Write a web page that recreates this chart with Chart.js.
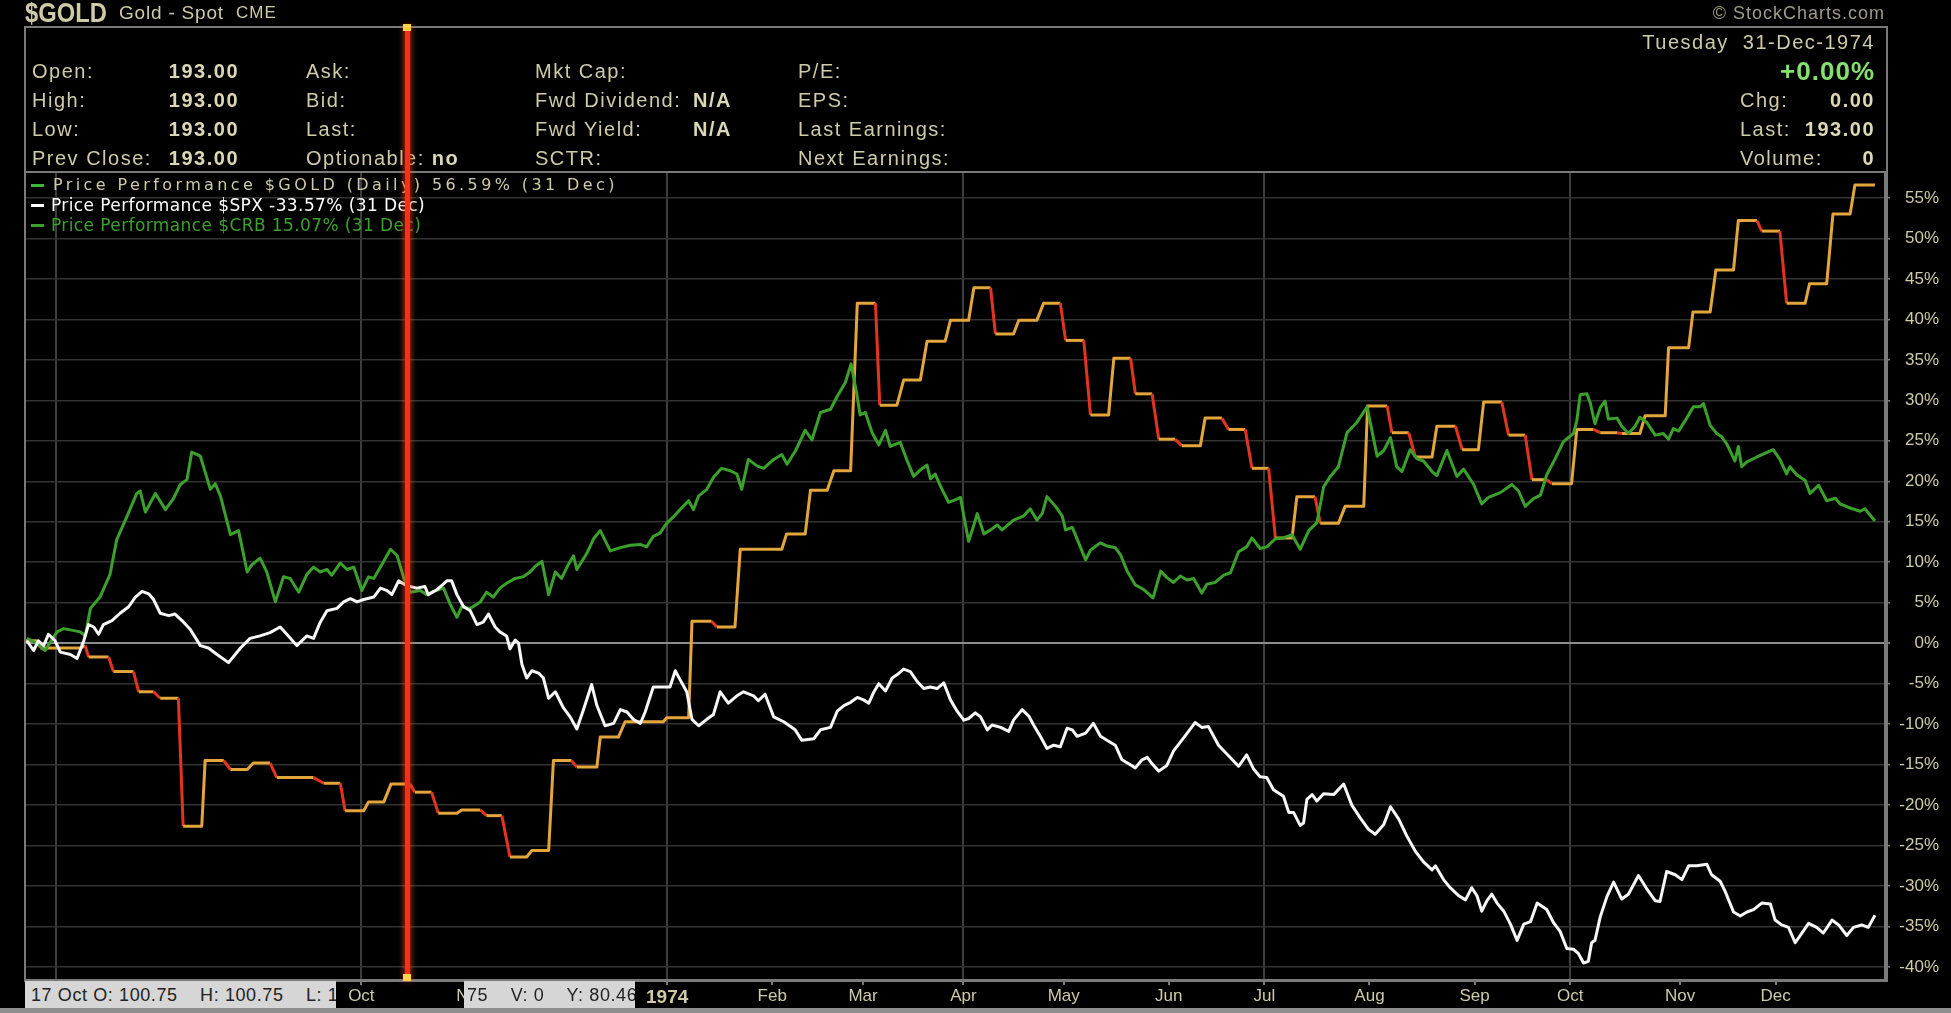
<!DOCTYPE html>
<html>
<head>
<meta charset="utf-8">
<script src="https://cdn.jsdelivr.net/npm/chart.js"></script>
<style>
  html, body { margin: 0; padding: 0; background: #000; width: 1951px; height: 1013px; overflow: hidden; }
  #wrap { position: relative; width: 1951px; height: 1013px; }
  #c { position: absolute; left: 0; top: 0; z-index: 1; }
  .t { position: absolute; z-index: 2; white-space: nowrap; line-height: 1; color: #cfcaa8;
       font-family: 'Liberation Sans', Arial, sans-serif; font-size: 20px; letter-spacing: 1.5px; }
  .b { font-weight: bold; color: #dcd8b6; }
  .lg { font-family: 'DejaVu Sans', sans-serif; font-size: 17px; letter-spacing: 0.4px; }
  .dash { position: absolute; z-index: 2; width: 13px; height: 3px; }
  #frame { position: absolute; z-index: 2; left: 24px; top: 26px; width: 1860px; height: 952px;
           border: 2px solid #7a7a7a; pointer-events: none; }
  #sep { position: absolute; z-index: 2; left: 24px; top: 171px; width: 1862px; height: 2px; background: #7a7a7a; }
  .tip { position: absolute; z-index: 3; top: 981px; height: 27px; background: #d6d6d6; overflow: hidden; }
  .tip span { position: absolute; top: 5px; white-space: nowrap; color: #222; line-height: 1;
              font-family: 'Liberation Sans', Arial, sans-serif; font-size: 18px; letter-spacing: 0.6px; }
  #foot { position: absolute; z-index: 3; left: 0; top: 1008px; width: 1951px; height: 5px; background: #8e8e8e; }
  #cursor { position: absolute; z-index: 4; top: 27px; height: 952px; width: 5px; background: #ff2c18;
            box-shadow: 0 0 5px 2px rgba(255, 70, 30, 0.55); }
  .knob { position: absolute; z-index: 5; width: 8px; height: 7px; background: #ffd24a; }
</style>
</head>
<body>
<div id="wrap">
  <canvas id="c" width="1951" height="1013"></canvas>

  <!-- titre -->
  <div class="t b" style="left:25px;top:0px;font-size:27px;letter-spacing:0;color:#cfcaa8;transform:scaleX(0.88);transform-origin:left top">$GOLD</div>
  <div class="t" style="left:119px;top:3px;font-size:19px;letter-spacing:0.8px">Gold - Spot</div>
  <div class="t" style="left:236px;top:4px;font-size:17px;letter-spacing:1px">CME</div>
  <div class="t" style="right:66px;top:4px;font-size:18px;letter-spacing:1px;color:#9e9b86">&copy; StockCharts.com</div>

  <div id="frame"></div>
  <div id="sep"></div>

  <!-- en-tete -->
  <div class="t" style="left:32px;top:61px">Open:</div>
  <div class="t" style="left:32px;top:90px">High:</div>
  <div class="t" style="left:32px;top:119px">Low:</div>
  <div class="t" style="left:32px;top:148px">Prev Close:</div>
  <div class="t b" style="right:1712px;top:61px">193.00</div>
  <div class="t b" style="right:1712px;top:90px">193.00</div>
  <div class="t b" style="right:1712px;top:119px">193.00</div>
  <div class="t b" style="right:1712px;top:148px">193.00</div>

  <div class="t" style="left:306px;top:61px">Ask:</div>
  <div class="t" style="left:306px;top:90px">Bid:</div>
  <div class="t" style="left:306px;top:119px">Last:</div>
  <div class="t" style="left:306px;top:148px">Optionable: <span class="b">no</span></div>

  <div class="t" style="left:535px;top:61px">Mkt Cap:</div>
  <div class="t" style="left:535px;top:90px">Fwd Dividend:</div>
  <div class="t" style="left:535px;top:119px">Fwd Yield:</div>
  <div class="t" style="left:535px;top:148px">SCTR:</div>
  <div class="t b" style="left:693px;top:90px">N/A</div>
  <div class="t b" style="left:693px;top:119px">N/A</div>

  <div class="t" style="left:798px;top:61px">P/E:</div>
  <div class="t" style="left:798px;top:90px">EPS:</div>
  <div class="t" style="left:798px;top:119px">Last Earnings:</div>
  <div class="t" style="left:798px;top:148px">Next Earnings:</div>

  <div class="t" style="right:76px;top:32px">Tuesday&nbsp; 31-Dec-1974</div>
  <div class="t b" style="right:76px;top:58px;font-size:26px;letter-spacing:1px;color:#86e070">+0.00%</div>
  <div class="t" style="left:1740px;top:90px">Chg:</div>
  <div class="t b" style="right:76px;top:90px">0.00</div>
  <div class="t" style="left:1740px;top:119px">Last:</div>
  <div class="t b" style="right:76px;top:119px">193.00</div>
  <div class="t" style="left:1740px;top:148px">Volume:</div>
  <div class="t b" style="right:76px;top:148px">0</div>

  <!-- legende -->
  <div class="dash" style="left:31px;top:184px;background:#3db53a"></div>
  <div class="t lg" style="left:53px;top:177px;font-size:16px;letter-spacing:3.4px;color:#cfcaa8">Price Performance $GOLD (Daily) 56.59% (31 Dec)</div>
  <div class="dash" style="left:31px;top:204px;background:#ffffff"></div>
  <div class="t lg" style="left:51px;top:197px;color:#ffffff">Price Performance $SPX -33.57% (31 Dec)</div>
  <div class="dash" style="left:31px;top:224px;background:#3ca02d"></div>
  <div class="t lg" style="left:51px;top:217px;color:#3ca02d">Price Performance $CRB 15.07% (31 Dec)</div>

  <!-- infobulle du bas -->
  <div class="tip" style="left:25px;width:311px"><span style="left:6px">17 Oct O: 100.75&nbsp;&nbsp;&nbsp; H: 100.75&nbsp;&nbsp;&nbsp; L: 100.75</span></div>
  <div class="tip" style="left:464px;width:171px"><span style="left:3px">75&nbsp;&nbsp;&nbsp; V: 0&nbsp;&nbsp;&nbsp; Y: 80.46</span></div>
  <div id="foot"></div>

  <div id="cursor"></div>
  <div class="knob" id="knobTop" style="top:24px"></div>
  <div class="knob" id="knobBot" style="top:974px"></div>
</div>

<script>
// x = jour de bourse (0 = 2 janv. 1974), y = performance en %
const monthDays = [-127.9, -107, -85, -64, -41, -20, 0, 22, 41, 62, 83, 105, 125, 147, 169, 189, 212, 232];
const monthLabels = ["Jul", "Aug", "Sep", "Oct", "Nov", "Dec", "1974", "Feb", "Mar", "Apr", "May", "Jun", "Jul", "Aug", "Sep", "Oct", "Nov", "Dec"];
const quarterDays = [-127.9, -64, 0, 62, 125, 189];
const yTicks = [-40, -35, -30, -25, -20, -15, -10, -5, 0, 5, 10, 15, 20, 25, 30, 35, 40, 45, 50, 55];
const cursorDay = -54.4;

const gold = [
  [-134.4,0.3],[-131.8,0.3],[-131.2,-0.6],[-122.8,-0.6],[-121.8,-0.3],[-121.1,-1.7],[-116.9,-1.7],[-115.9,-3.5],
  [-111.7,-3.5],[-110.6,-6.0],[-107.5,-6.0],[-106.1,-6.8],[-102.3,-6.8],[-101.3,-22.6],[-97.4,-22.6],[-96.7,-14.5],
  [-92.8,-14.5],[-91.4,-15.6],[-87.9,-15.6],[-86.6,-14.8],[-83.1,-14.8],[-81.7,-16.6],[-74.0,-16.6],[-71.9,-17.3],
  [-68.4,-17.3],[-67.4,-20.7],[-63.5,-20.7],[-62.5,-19.6],[-59.3,-19.6],[-57.8,-17.4],[-53.8,-17.4],[-52.8,-18.4],
  [-49.3,-18.4],[-47.9,-21.0],[-44.0,-21.0],[-43.0,-20.6],[-39.1,-20.6],[-37.8,-21.3],[-34.6,-21.3],[-32.9,-26.4],
  [-29.4,-26.4],[-28.3,-25.6],[-24.8,-25.6],[-23.8,-14.5],[-20.0,-14.5],[-18.9,-15.3],[-14.7,-15.3],[-14.0,-11.6],
  [-10.2,-11.6],[-8.8,-9.7],[-0.8,-9.7],[-0.1,-9.2],[4.5,-9.2],[5.2,2.7],[9.3,2.7],[10.4,2.0],[14.2,2.0],[15.3,11.6],
  [24.0,11.6],[25.0,13.5],[28.9,13.5],[30.0,18.9],[33.5,18.9],[34.9,21.3],[38.4,21.3],[39.8,42.0],[43.6,42.0],
  [44.5,29.4],[48.1,29.4],[49.5,32.5],[53.0,32.5],[54.4,37.3],[58.2,37.3],[59.3,39.9],[63.1,39.9],[64.2,43.9],
  [67.7,43.9],[68.7,38.2],[72.5,38.2],[73.6,39.9],[77.4,39.9],[78.8,42.0],[82.3,42.0],[83.4,37.4],[87.2,37.4],
  [88.6,28.2],[92.4,28.2],[93.5,35.2],[97.0,35.2],[98.0,30.8],[101.5,30.8],[102.9,25.2],[106.3,25.2],[107.7,24.4],
  [111.6,24.4],[112.6,27.8],[116.1,27.8],[117.5,26.4],[121.0,26.4],[122.4,21.6],[125.9,21.6],[127.3,13.0],
  [130.8,13.0],[131.8,18.1],[135.6,18.1],[136.7,14.8],[140.5,14.8],[141.9,16.9],[145.8,16.9],[146.6,29.3],
  [150.7,29.3],[151.7,26.0],[155.2,26.0],[156.6,23.0],[160.1,23.0],[161.1,26.8],[165.0,26.8],[166.4,23.9],
  [169.8,23.9],[170.9,29.8],[174.7,29.8],[176.1,25.7],[179.6,25.7],[181.0,20.2],[184.1,20.2],[185.2,19.7],
  [189.3,19.7],[190.4,26.4],[193.9,26.4],[195.3,26.0],[198.8,26.0],[199.8,25.9],[203.6,25.9],[204.7,28.1],
  [208.9,28.1],[209.6,36.5],[213.8,36.5],[214.7,40.9],[218.3,40.9],[219.5,46.1],[223.2,46.1],[224.2,52.2],
  [228.1,52.2],[229.1,50.9],[232.9,50.9],[234.3,42.0],[238.2,42.0],[239.1,44.4],[242.7,44.4],[244.0,53.0],
  [247.6,53.0],[248.6,56.6],[252.8,56.6]
];

const spx = [
  [-134.0,0.3],[-132.6,-0.9],[-131.6,0.3],[-130.5,-0.3],[-129.5,1.1],[-128.1,0.3],[-127.0,-1.1],[-124.9,-1.4],
  [-123.5,-1.9],[-122.1,0.3],[-121.1,2.3],[-120.0,2.0],[-119.0,1.1],[-118.0,2.3],[-116.2,2.8],[-114.5,3.7],
  [-112.7,4.5],[-111.3,5.7],[-109.9,6.4],[-108.5,6.1],[-107.5,5.4],[-106.1,3.7],[-104.3,3.4],[-103.0,3.6],
  [-101.2,2.6],[-99.8,1.7],[-97.7,-0.3],[-96.0,-0.6],[-94.2,-1.4],[-91.8,-2.4],[-89.3,-0.6],[-87.3,0.6],
  [-85.2,0.9],[-83.1,1.3],[-81.0,2.0],[-79.6,1.1],[-77.5,-0.3],[-75.4,0.9],[-74.0,0.6],[-72.6,2.6],[-71.2,4.0],
  [-69.1,4.3],[-67.7,5.1],[-66.3,5.5],[-64.9,5.1],[-63.5,5.4],[-61.4,5.7],[-60.0,6.8],[-58.6,6.5],[-57.6,6.0],
  [-56.2,7.7],[-54.5,7.1],[-52.4,6.8],[-50.7,7.0],[-50.0,6.0],[-48.2,6.6],[-46.1,7.7],[-45.1,7.7],[-44.0,6.0],
  [-42.6,4.5],[-41.2,4.0],[-39.8,2.3],[-38.5,2.6],[-37.4,3.6],[-36.0,2.0],[-35.0,1.4],[-33.6,0.9],[-32.9,-0.7],
  [-31.8,0.4],[-31.1,0.0],[-30.4,-2.6],[-29.4,-4.3],[-28.3,-3.4],[-26.9,-3.7],[-25.9,-4.3],[-24.8,-6.8],
  [-23.4,-6.0],[-21.7,-8.0],[-20.3,-9.1],[-18.9,-10.6],[-17.5,-8.2],[-15.8,-5.1],[-14.7,-7.7],[-13.0,-10.2],
  [-11.2,-9.9],[-9.8,-8.2],[-8.4,-8.5],[-7.1,-9.4],[-5.6,-9.9],[-4.6,-8.5],[-2.9,-5.4],[-0.8,-5.4],[0.6,-5.4],
  [1.7,-3.4],[2.7,-4.5],[4.1,-6.0],[5.2,-9.4],[6.6,-10.2],[8.3,-9.4],[9.7,-8.8],[11.1,-6.0],[12.8,-7.4],
  [14.6,-6.5],[16.0,-6.0],[18.1,-6.5],[19.1,-7.1],[20.5,-6.3],[22.3,-9.1],[24.4,-9.7],[26.8,-10.7],[28.2,-12.0],
  [30.7,-11.8],[32.1,-10.7],[34.2,-10.4],[35.6,-8.4],[37.0,-7.7],[38.4,-7.3],[39.8,-6.7],[41.1,-7.0],[42.2,-7.4],
  [43.2,-6.1],[44.3,-5.0],[45.7,-5.9],[47.1,-4.3],[48.1,-3.9],[49.5,-3.2],[50.9,-3.5],[52.3,-4.7],[53.7,-5.6],
  [55.1,-5.4],[56.5,-5.6],[57.9,-4.9],[59.3,-7.0],[60.7,-8.4],[62.1,-9.5],[63.1,-9.3],[64.5,-8.6],[65.6,-9.1],
  [67.0,-10.7],[68.0,-10.1],[69.8,-10.4],[71.5,-10.9],[72.5,-9.5],[74.3,-8.2],[75.7,-9.0],[76.7,-10.1],
  [78.1,-11.5],[79.5,-13.0],[80.9,-12.6],[82.3,-12.8],[83.7,-10.5],[84.8,-10.7],[85.8,-11.5],[87.6,-11.1],
  [89.2,-9.9],[90.7,-11.5],[92.4,-12.1],[93.8,-12.6],[95.2,-14.4],[96.6,-14.9],[98.0,-15.4],[99.4,-14.4],
  [100.5,-14.1],[101.5,-14.9],[102.9,-15.8],[104.6,-15.1],[106.0,-13.3],[108.1,-11.7],[110.5,-9.8],[111.9,-10.4],
  [113.3,-10.3],[115.4,-12.6],[117.5,-13.9],[119.6,-15.2],[121.3,-13.8],[122.7,-15.5],[124.1,-16.5],[125.5,-16.6],
  [126.9,-18.1],[129.0,-18.9],[130.1,-20.9],[131.1,-20.9],[132.5,-22.5],[133.2,-22.2],[133.9,-19.3],[135.0,-18.7],
  [136.0,-19.5],[137.4,-18.6],[139.5,-18.7],[141.6,-17.4],[143.3,-20.0],[145.1,-21.6],[146.8,-23.0],[148.2,-23.6],
  [150.0,-22.4],[151.4,-20.2],[153.1,-21.7],[154.8,-23.8],[156.6,-25.7],[158.3,-27.0],[160.1,-28.0],[160.8,-27.5],
  [162.5,-29.2],[163.9,-30.2],[165.7,-31.2],[167.1,-31.7],[168.4,-30.2],[169.5,-31.2],[170.5,-33.1],[171.6,-31.8],
  [172.6,-31.0],[173.7,-32.1],[175.1,-33.1],[176.5,-34.7],[177.9,-36.7],[179.3,-34.7],[180.7,-34.4],[182.1,-32.1],
  [184.1,-32.9],[185.5,-34.5],[186.9,-35.6],[188.3,-37.7],[189.7,-37.8],[190.7,-38.3],[191.8,-39.5],[192.8,-39.3],
  [193.5,-37.0],[194.2,-36.7],[195.3,-33.8],[196.7,-31.3],[198.1,-29.5],[199.8,-31.6],[201.2,-31.0],[203.3,-28.7],
  [205.0,-30.3],[206.8,-31.8],[207.8,-31.9],[209.2,-28.2],[211.0,-28.6],[212.4,-29.2],[213.8,-27.5],[215.5,-27.5],
  [217.6,-27.3],[218.6,-28.6],[220.4,-29.4],[221.4,-30.6],[223.2,-33.2],[224.6,-33.7],[226.0,-33.2],[227.4,-32.9],
  [229.1,-32.1],[230.9,-32.2],[231.9,-34.2],[233.3,-34.8],[234.7,-35.1],[236.1,-37.0],[237.5,-35.8],[238.9,-34.6],
  [240.6,-35.1],[242.0,-35.8],[243.8,-34.2],[245.2,-34.8],[246.9,-36.1],[248.3,-35.1],[250.0,-34.8],[251.4,-35.1],
  [252.8,-33.6]
];

const crb = [
  [-134.0,0.6],[-132.0,0.0],[-130.2,-0.9],[-127.7,1.4],[-126.3,1.8],[-122.8,1.4],[-121.8,0.9],[-120.7,4.3],
  [-118.7,5.7],[-116.6,8.5],[-115.2,12.8],[-113.1,15.6],[-111.0,18.5],[-110.3,18.8],[-109.2,16.2],[-107.1,18.5],
  [-105.0,16.5],[-103.3,17.9],[-101.9,19.6],[-100.5,20.2],[-99.5,23.6],[-97.7,23.1],[-95.6,19.0],[-94.6,19.7],
  [-93.5,18.2],[-91.4,13.4],[-89.7,13.9],[-87.9,8.8],[-86.9,9.7],[-85.2,10.5],[-83.8,8.8],[-82.0,5.1],[-80.3,8.2],
  [-78.9,8.0],[-77.1,6.3],[-75.4,8.5],[-74.0,9.4],[-72.6,8.8],[-71.2,9.1],[-70.2,8.4],[-68.4,9.9],[-67.0,9.1],
  [-65.6,9.4],[-63.9,6.5],[-62.5,8.2],[-61.4,8.0],[-60.0,9.4],[-57.9,11.6],[-56.5,10.8],[-55.1,8.0],[-53.8,6.3],
  [-51.7,6.5],[-50.3,6.0],[-48.9,6.4],[-46.8,6.8],[-45.4,4.8],[-44.0,3.2],[-43.0,4.5],[-41.2,4.3],[-39.1,5.1],
  [-37.8,6.3],[-36.4,5.7],[-35.0,6.8],[-33.6,7.4],[-31.8,8.0],[-30.1,8.2],[-28.7,8.8],[-27.6,9.5],[-26.2,10.1],
  [-24.8,6.0],[-23.4,8.8],[-22.1,8.0],[-20.7,9.7],[-19.6,10.8],[-18.9,9.1],[-16.8,11.1],[-15.4,12.9],[-14.0,13.9],
  [-11.9,11.4],[-9.8,11.8],[-7.7,12.1],[-5.6,12.2],[-4.3,11.9],[-2.9,13.2],[-1.5,13.6],[-0.1,14.8],[1.3,15.6],
  [2.7,16.5],[4.5,17.6],[5.5,16.5],[6.6,18.2],[8.3,19.0],[9.7,20.5],[11.4,21.6],[13.2,21.3],[14.6,20.9],
  [15.6,19.0],[17.0,22.7],[18.8,21.9],[20.2,21.6],[22.3,22.7],[24.0,23.3],[25.1,22.1],[26.8,23.7],[28.9,26.3],
  [30.3,25.1],[32.1,28.5],[34.2,28.9],[35.6,30.5],[37.3,32.2],[38.5,34.5],[39.6,31.1],[40.4,28.2],[41.5,28.5],
  [42.9,26.0],[44.3,24.5],[45.7,26.3],[46.7,24.3],[48.8,24.8],[50.2,22.6],[51.6,20.6],[53.0,21.4],[54.4,22.0],
  [55.1,20.3],[56.1,20.9],[57.2,19.4],[58.9,17.4],[60.3,17.7],[61.4,18.0],[62.1,15.7],[63.1,12.6],[64.2,14.6],
  [64.9,16.0],[66.3,13.5],[67.7,14.0],[69.1,14.6],[70.1,14.0],[72.5,15.2],[74.6,15.7],[76.0,16.6],[77.4,15.2],
  [78.5,16.0],[79.5,18.1],[81.3,16.9],[82.7,15.7],[83.4,14.0],[84.8,14.3],[86.2,12.3],[87.6,10.3],[88.6,11.5],
  [90.7,12.4],[92.1,12.0],[93.8,11.8],[94.9,10.9],[96.3,8.9],[98.0,7.2],[99.8,6.6],[101.7,5.6],[103.3,8.9],
  [104.6,8.1],[106.0,7.5],[107.4,8.3],[108.8,7.8],[110.2,8.0],[111.9,6.2],[113.0,7.3],[114.7,7.5],[116.5,8.4],
  [117.9,8.7],[119.6,11.3],[121.3,11.9],[122.4,13.0],[124.1,11.7],[125.5,11.9],[127.3,12.9],[129.0,13.0],
  [130.8,13.4],[132.5,11.6],[134.3,13.9],[136.0,14.9],[137.4,19.3],[138.8,20.6],[140.5,21.8],[142.3,26.0],
  [144.4,27.3],[146.5,29.2],[148.6,23.1],[150.0,23.8],[151.4,25.4],[152.7,21.8],[153.8,21.2],[155.5,23.9],
  [156.9,22.8],[158.3,22.5],[160.1,21.2],[161.1,20.7],[163.2,23.8],[165.3,20.6],[166.7,21.5],[168.8,19.6],
  [170.5,17.2],[171.9,18.0],[174.4,18.6],[176.8,19.6],[178.2,18.8],[179.6,16.9],[181.4,17.9],[182.8,18.3],
  [184.1,20.8],[185.8,22.7],[187.6,24.9],[189.7,25.9],[190.4,27.5],[191.1,30.7],[192.5,30.8],[193.2,29.7],
  [194.2,27.1],[195.3,29.1],[196.3,29.9],[197.0,27.7],[198.8,27.8],[199.8,26.8],[201.2,25.9],[202.6,26.8],
  [203.6,27.9],[205.0,27.3],[206.8,25.7],[208.5,25.9],[209.6,25.2],[210.6,26.5],[211.7,26.2],[213.4,27.8],
  [214.8,29.2],[216.2,29.2],[216.9,29.6],[218.3,26.9],[219.7,25.9],[220.7,25.5],[221.8,24.6],[223.5,22.5],
  [224.2,24.3],[224.9,21.8],[226.0,22.4],[228.1,23.0],[231.5,23.9],[232.9,22.7],[234.3,20.9],[235.0,21.8],
  [236.4,20.8],[238.2,20.1],[239.2,18.5],[241.0,19.5],[242.7,17.6],[244.5,17.9],[245.5,17.2],[247.6,16.7],
  [249.7,16.3],[250.7,16.6],[252.8,15.1]
];

const beige = "#cfcaa8";
const goldUp = "#e3a63c";
const goldDown = "#e2341f";
const narrow = "'Liberation Sans Narrow', 'Liberation Sans', Arial, sans-serif";

const toXY = (arr) => arr.map(([x, y]) => ({ x: x, y: y }));

// Positionne le curseur rouge d'apres l'echelle x
const cursorPlugin = {
  id: "cursor",
  afterDraw(chart) {
    const px = chart.scales.x.getPixelForValue(cursorDay);
    document.getElementById("cursor").style.left = (px - 2.5) + "px";
    document.getElementById("knobTop").style.left = (px - 4) + "px";
    document.getElementById("knobBot").style.left = (px - 4) + "px";
  }
};

new Chart(document.getElementById("c").getContext("2d"), {
  type: "line",
  data: {
    datasets: [
      { label: "$SPX", data: toXY(spx), borderColor: "#f7f7f7", borderWidth: 3, pointRadius: 0, tension: 0,
        borderJoinStyle: "round" },
      { label: "$CRB", data: toXY(crb), borderColor: "#3ca02d", borderWidth: 3, pointRadius: 0, tension: 0,
        borderJoinStyle: "round" },
      { label: "$GOLD", data: toXY(gold), borderColor: goldUp, borderWidth: 3, pointRadius: 0, tension: 0,
        borderJoinStyle: "round",
        segment: { borderColor: (ctx) => (ctx.p1.parsed.y < ctx.p0.parsed.y - 0.01 ? goldDown : goldUp) } }
    ]
  },
  options: {
    responsive: false,
    animation: false,
    devicePixelRatio: 1,
    layout: { padding: { left: 25, top: 172, right: 12, bottom: 5 } },
    plugins: { legend: { display: false }, tooltip: { enabled: false } },
    scales: {
      x: {
        type: "linear",
        min: -134.4,
        max: 254.9,
        afterBuildTicks: (s) => { s.ticks = monthDays.map((v) => ({ value: v })); },
        afterFit: (s) => { s.height = 28; },
        ticks: {
          autoSkip: false, maxRotation: 0, padding: 1, color: beige,
          callback: (v) => monthLabels[monthDays.indexOf(v)],
          font: (ctx) => (ctx.tick && ctx.tick.value === 0
            ? { family: narrow, size: 19, weight: "bold" }
            : { family: narrow, size: 17 })
        },
        grid: {
          color: (ctx) => (ctx.tick && quarterDays.includes(ctx.tick.value) ? "#3d3d3d" : "rgba(0,0,0,0)"),
          lineWidth: 2, tickColor: "#7a7a7a", tickLength: 5
        },
        border: { color: "#7a7a7a", width: 2 }
      },
      y: {
        position: "right",
        min: -41.6,
        max: 58.2,
        afterBuildTicks: (s) => { s.ticks = yTicks.map((v) => ({ value: v })); },
        afterFit: (s) => { s.width = 54; },
        ticks: {
          color: beige, padding: 3, crossAlign: "far",
          font: { family: narrow, size: 17 },
          callback: (v) => v + "%"
        },
        grid: {
          color: (ctx) => (ctx.tick && ctx.tick.value === 0 ? "#8c8c8c" : "#333333"),
          lineWidth: (ctx) => (ctx.tick && ctx.tick.value === 0 ? 2 : 1.5),
          tickColor: "#7a7a7a", tickLength: 5
        },
        border: { color: "#7a7a7a", width: 2 }
      }
    }
  },
  plugins: [cursorPlugin]
});
</script>
</body>
</html>
